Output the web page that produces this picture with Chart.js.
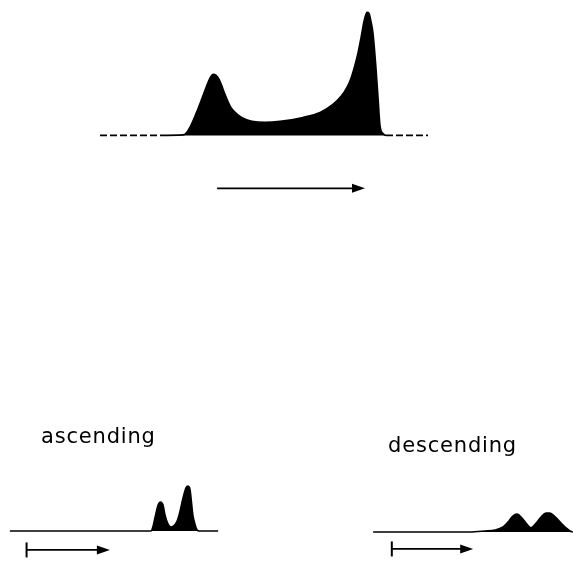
<!DOCTYPE html>
<html>
<head>
<meta charset="utf-8">
<script src="https://cdn.jsdelivr.net/npm/chart.js@4/dist/chart.umd.min.js"></script>
<style>
  html, body { margin: 0; padding: 0; background: #fff; }
  body { width: 573px; height: 561px; position: relative; overflow: hidden; }
  .panel { position: absolute; }
  #pTop { left: 100px; top: 0; width: 328px; height: 200px; }
  #pAsc { left: 0; top: 415px; width: 230px; height: 146px; }
  #pDesc { left: 360px; top: 415px; width: 213px; height: 146px; }
</style>
</head>
<body>
<div class="panel" id="pTop"><canvas id="cTop" width="328" height="200"></canvas></div>
<div class="panel" id="pAsc"><canvas id="cAsc" width="230" height="146"></canvas></div>
<div class="panel" id="pDesc"><canvas id="cDesc" width="213" height="146"></canvas></div>
<script>
// elution profile, main run (x: elution units, y: % of tallest peak)
const topX = [0, 18.3, 25.3, 26.2, 27.4, 29.3, 31.1, 32.6, 33.5, 34.5, 35.4, 36.3, 37.2, 38.1, 39.0, 39.9, 41.2, 42.7, 44.5, 46.3, 50.3, 54.9, 61.9, 67.1, 71.0, 73.5, 75.3, 76.5, 77.7, 78.7, 79.6, 80.5, 81.4, 82.0, 82.6, 83.2, 84.1, 84.8, 85.4, 86.3, 87.2, 100];
const topY = [0, 0, 0.4, 1.6, 6.5, 17.9, 30.1, 40.7, 46.3, 49.6, 48.8, 45.5, 39.8, 33.3, 27.6, 22.8, 18.7, 15.4, 13.0, 11.5, 10.6, 11.4, 14.6, 18.7, 25.2, 31.7, 39.0, 46.3, 56.9, 67.5, 79.7, 92.7, 100, 99.2, 92.7, 83.7, 56.1, 29.3, 7.3, 1.6, 0, 0];

// ascending run
const ascX = [3.0, 45.1, 46.0, 46.6, 47.3, 48.2, 48.9, 49.7, 50.3, 51.2, 52.1, 53.0, 54.0, 54.6, 55.8, 56.7, 57.3, 57.9, 58.8, 59.5, 60.1, 60.7, 66.5];
const ascY = [0, 0, 0, 3.3, 11.4, 21.1, 23.6, 21.1, 13.0, 5.7, 3.3, 4.1, 8.1, 13.0, 26.8, 35.0, 36.6, 34.1, 13.0, 4.9, 0.8, 0, 0];

// descending run
const descX = [4.0, 33.5, 38.1, 41.2, 43.6, 45.4, 46.6, 47.9, 49.1, 50.6, 52.1, 53.7, 55.2, 56.7, 57.9, 59.5, 61.3, 62.8, 64.0, 64.9];
const descY = [0, 0, 0.8, 1.6, 4.1, 8.9, 13.0, 14.6, 12.2, 7.3, 3.3, 7.3, 12.2, 15.4, 15.4, 12.2, 7.3, 3.3, 0.8, 0];

// direction arrows (data units)
const topArrow = { x0: 35.7, x1: 80.8, y: -43, tick: false };
const ascArrow = { x0: 8.1, x1: 33.5, y: -15.4, tick: true };
const descArrow = { x0: 9.7, x1: 34.5, y: -13.8, tick: true };

// panel labels
const ascLabel = { text: 'ascending', x: 30.0, y: 71.5 };
const descLabel = { text: 'descending', x: 28.2, y: 65.0 };

const el = (id) => document.getElementById(id);
const pts = (xs, ys) => xs.map((x, i) => ({ x, y: ys[i] }));

// draws the arrow and label of a panel through the chart's scales
const decor = {
  id: 'decor',
  afterDatasetsDraw(chart, args, opts) {
    const { ctx, scales: { x, y } } = chart;
    ctx.save();
    ctx.strokeStyle = '#000';
    ctx.fillStyle = '#000';
    const a = opts.arrow;
    if (a) {
      const x0 = x.getPixelForValue(a.x0);
      const x1 = x.getPixelForValue(a.x1);
      const py = y.getPixelForValue(a.y);
      const head = 13, half = 4.5;
      ctx.lineWidth = 1.8;
      ctx.beginPath();
      ctx.moveTo(x0, py);
      ctx.lineTo(x1 - head + 2, py);
      ctx.stroke();
      ctx.beginPath();
      ctx.moveTo(x1, py);
      ctx.lineTo(x1 - head, py - half);
      ctx.lineTo(x1 - head, py + half);
      ctx.closePath();
      ctx.fill();
      if (a.tick) {
        ctx.lineWidth = 2;
        ctx.beginPath();
        ctx.moveTo(x0, py - 7.5);
        ctx.lineTo(x0, py + 7.5);
        ctx.stroke();
      }
    }
    const l = opts.label;
    if (l) {
      ctx.font = '21px "DejaVu Sans"';
      ctx.letterSpacing = '0.8px';
      ctx.textAlign = 'center';
      ctx.textBaseline = 'alphabetic';
      ctx.fillText(l.text, x.getPixelForValue(l.x), y.getPixelForValue(l.y));
    }
    ctx.restore();
  }
};

function makeProfile(canvasId, xs, ys, xMax, yMin, yMax, arrow, label, dashEnds) {
  const last = xs.length - 2;
  return new Chart(el(canvasId), {
    type: 'line',
    data: {
      datasets: [{
        data: pts(xs, ys),
        borderColor: '#000',
        backgroundColor: '#000',
        borderWidth: 1.6,
        fill: 'origin',
        pointRadius: 0,
        cubicInterpolationMode: 'monotone',
        clip: false,
        segment: {
          borderDash: (c) => dashEnds && (c.p0DataIndex === 0 || c.p0DataIndex === last) ? [7, 3] : undefined,
        },
      }],
    },
    options: {
      responsive: false,
      animation: false,
      events: [],
      layout: { padding: 0 },
      scales: {
        x: { type: 'linear', min: 0, max: xMax, display: false },
        y: { min: yMin, max: yMax, display: false },
      },
      plugins: {
        legend: { display: false },
        tooltip: { enabled: false },
        decor: { arrow, label },
      },
    },
    plugins: [decor],
  });
}

makeProfile('cTop', topX, topY, 100, -52.5, 110, topArrow, null, true);
makeProfile('cAsc', ascX, ascY, 70.12, -24.4, 94.3, ascArrow, ascLabel, false);
makeProfile('cDesc', descX, descY, 64.94, -23.6, 95.1, descArrow, descLabel, false);
</script>
</body>
</html>
